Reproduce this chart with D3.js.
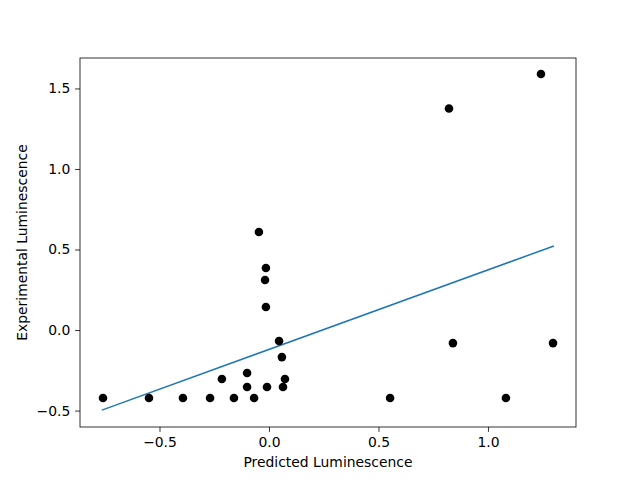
<!DOCTYPE html>
<html><head><meta charset="utf-8">
<script src="https://cdn.jsdelivr.net/npm/d3@7"></script>
<style>body{margin:0;background:#fff}text{font-family:"DejaVu Sans",sans-serif}</style>
</head><body><svg id="c" width="640" height="480"></svg>
<script>
const predicted = [-0.758,-0.548,-0.393,-0.269,-0.160,-0.068,-0.215,-0.100,-0.100,-0.046,-0.014,-0.018,-0.014,0.046,0.059,-0.009,0.064,0.073,0.553,0.822,0.840,1.082,1.242,1.297];
const experimental = [-0.422,-0.422,-0.422,-0.422,-0.422,-0.422,-0.304,-0.267,-0.354,0.609,0.385,0.311,0.143,-0.068,-0.168,-0.354,-0.354,-0.304,-0.422,1.375,-0.081,-0.422,1.590,-0.081];
const fitX = [-0.763, 1.301];
const fitY = [-0.497, 0.522];
const xTicks = [-0.5,0,0.5,1.0];
const yTicks = [-0.5,0,0.5,1.0,1.5];

const svg = d3.select("#c");
const L=80,R=576,T=58,B=427;
const x = d3.scaleLinear().domain([-0.863,1.402]).range([L,R]);
const y = d3.scaleLinear().domain([-0.602,1.689]).range([B,T]);

svg.append("path").attr("fill","none").attr("stroke","#1f77b4").attr("stroke-width",1.5)
  .attr("d", d3.line()(fitX.map((v,i)=>[x(v),y(fitY[i])])));
svg.selectAll("circle").data(predicted).join("circle")
  .attr("cx",d=>x(d)).attr("cy",(d,i)=>y(experimental[i])).attr("r",4.3).attr("fill","#000");

const fmt = d3.format(".1f");
const xa = svg.append("g").attr("transform",`translate(0,${B})`).call(d3.axisBottom(x).tickValues(xTicks).tickFormat(fmt).tickSize(4.9).tickPadding(4.8).tickSizeOuter(0));
const ya = svg.append("g").attr("transform",`translate(${L},0)`).call(d3.axisLeft(y).tickValues(yTicks).tickFormat(fmt).tickSize(4.9).tickPadding(4.8).tickSizeOuter(0));
[xa,ya].forEach(a=>{a.select(".domain").remove();a.selectAll("text").attr("font-size",13.9).attr("fill","#000").attr("font-family","DejaVu Sans");a.selectAll("line").attr("stroke","#000").attr("stroke-width",0.8);});
svg.append("rect").attr("x",L).attr("y",T).attr("width",R-L).attr("height",B-T).attr("fill","none").attr("stroke","#000").attr("stroke-width",0.8);
svg.append("text").attr("x",(L+R)/2).attr("y",467).attr("text-anchor","middle").attr("font-size",13.9).text("Predicted Luminescence");
svg.append("text").attr("transform",`translate(27,${(T+B)/2}) rotate(-90)`).attr("text-anchor","middle").attr("font-size",13.9).text("Experimental Luminescence");
</script></body></html>
